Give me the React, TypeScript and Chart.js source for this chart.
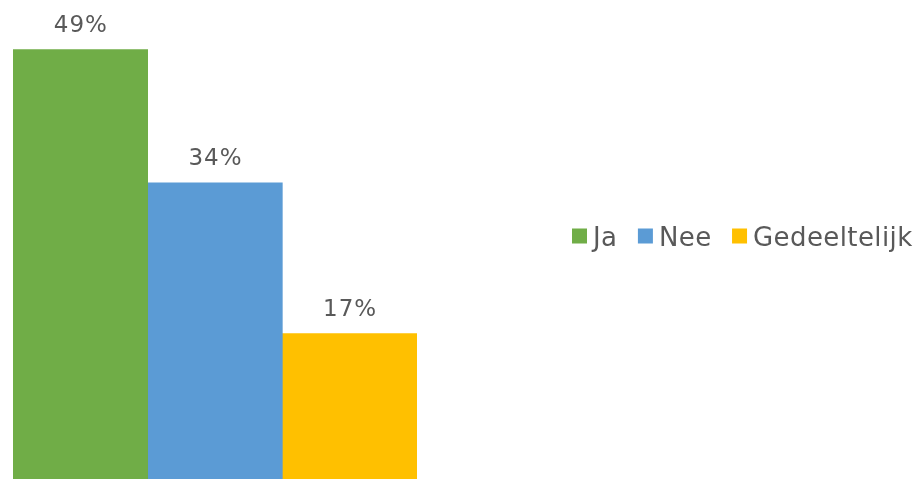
import React, { useEffect, useRef } from "react";
import { Chart, registerables } from "chart.js";

Chart.register(...registerables);

const categories = [""];
const seriesNames = ["Ja", "Nee", "Gedeeltelijk"];
const seriesValues = [49.3, 34.0, 16.7];
const seriesColors = ["#70AD47", "#5B9BD5", "#FFC000"];
const yMax = 55;

const FONT = '"DejaVu Sans", sans-serif';
const TEXT_COLOR = "#595959";

const valueLabels = {
  id: "valueLabels",
  afterDatasetsDraw(chart: any) {
    const ctx = chart.ctx;
    ctx.save();
    ctx.font = `23px ${FONT}`;
    (ctx as any).letterSpacing = "1px";
    ctx.fillStyle = TEXT_COLOR;
    ctx.textAlign = "center";
    ctx.textBaseline = "alphabetic";
    chart.data.datasets.forEach((ds: any, i: number) => {
      const meta = chart.getDatasetMeta(i);
      meta.data.forEach((el: any, j: number) => {
        ctx.fillText(`${Math.round(ds.data[j])}%`, el.x + 0.5, el.y - 18);
      });
    });
    ctx.restore();
  },
};

const rowLegend = {
  id: "rowLegend",
  afterDraw(chart: any) {
    const ctx = chart.ctx;
    ctx.save();
    ctx.font = `26px ${FONT}`;
    (ctx as any).letterSpacing = "0.4px";
    ctx.textBaseline = "alphabetic";
    ctx.textAlign = "left";
    let x = 572;
    const cy = 236;
    const box = 15;
    chart.data.datasets.forEach((ds: any) => {
      ctx.fillStyle = ds.backgroundColor;
      ctx.fillRect(x, cy - box / 2, box, box);
      ctx.fillStyle = TEXT_COLOR;
      ctx.fillText(ds.label, x + box + 6, 246);
      x += box + 6 + ctx.measureText(ds.label).width + 20.5;
    });
    ctx.restore();
  },
};

export default function App() {
  const ref = useRef<HTMLCanvasElement | null>(null);

  useEffect(() => {
    if (!ref.current) return;
    const chart = new Chart(ref.current, {
      type: "bar",
      data: {
        labels: categories,
        datasets: seriesNames.map((name, i) => ({
          label: name,
          data: [seriesValues[i]],
          backgroundColor: seriesColors[i],
          borderWidth: 0,
          categoryPercentage: 1,
          barPercentage: 1,
        })),
      },
      options: {
        animation: false,
        responsive: false,
        maintainAspectRatio: false,
        layout: { padding: { left: 13, right: 501, top: 0, bottom: 0 } },
        plugins: {
          legend: { display: false },
          tooltip: { enabled: false },
        },
        scales: {
          x: { display: false },
          y: { display: false, min: 0, max: yMax },
        },
      },
      plugins: [valueLabels, rowLegend],
    });
    return () => chart.destroy();
  }, []);

  return (
    <div style={{ position: "absolute", left: 0, top: 0, width: 918, height: 479, background: "#fff" }}>
      <canvas ref={ref} width={918} height={479} style={{ display: "block" }} />
    </div>
  );
}
